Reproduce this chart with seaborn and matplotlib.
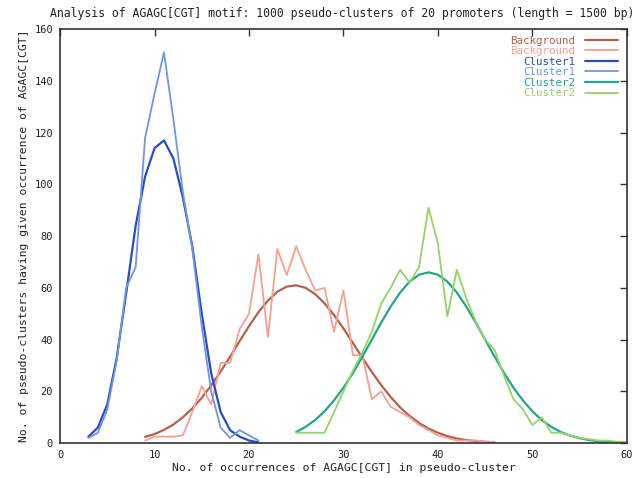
import matplotlib
matplotlib.use("Agg")
import matplotlib.pyplot as plt
import pandas as pd
import seaborn as sns

# occurrence counts (x) and number of pseudo-clusters (y)
bg_fit_x = list(range(9, 47))
bg_fit_y = [2.4, 3.5, 5.1, 7.2, 10.0, 13.4, 17.5, 22.3, 27.7, 33.4, 39.4, 45.2,
            50.6, 55.1, 58.5, 60.5, 61.0, 60.0, 57.6, 54.0, 49.5, 44.3, 38.7,
            33.0, 27.5, 22.4, 17.8, 13.8, 10.5, 7.8, 5.6, 4.0, 2.7, 1.8, 1.2,
            0.8, 0.5, 0.3]
bg_obs_x = list(range(9, 47))
bg_obs_y = [1, 2.5, 2.5, 2.5, 3, 12, 22, 15, 31, 31, 44, 50, 73, 41, 75, 65,
            76, 67, 59, 60, 43, 59, 34, 34, 17, 20, 14, 12, 10, 7, 5, 3, 2,
            1, 1, 1, 0.5, 0.5]

c1_fit_x = list(range(3, 22))
c1_fit_y = [2.5, 6, 15, 33, 58, 84, 103, 114, 117, 110, 95, 76, 50, 27, 12,
            5, 2.5, 1, 0.3]
c1_obs_x = list(range(3, 22))
c1_obs_y = [2, 4, 13, 32, 60, 68, 118, 135, 151, 125, 97, 75, 45, 20, 6, 2,
            5, 3, 1]

c2_fit_x = list(range(25, 61))
c2_fit_y = [4.3, 6.3, 8.9, 12.3, 16.5, 21.4, 27.1, 33.4, 40.0, 46.6, 52.8,
            58.2, 62.4, 65.1, 66.0, 65.1, 62.4, 58.2, 52.8, 46.6, 40.0, 33.4,
            27.1, 21.4, 16.5, 12.3, 8.9, 6.3, 4.3, 2.9, 1.9, 1.2, 0.7, 0.4,
            0.25, 0.15]
c2_obs_x = list(range(25, 61))
c2_obs_y = [4, 4, 4, 4, 12, 20, 28, 35, 43, 54, 60, 67, 62, 68, 91, 77, 49,
            67, 56, 47, 40, 36, 26, 17, 13, 7, 10, 4, 4, 3, 2, 1.5, 1, 1,
            0.5, 0.5]

series = [
    ("Background", bg_fit_x, bg_fit_y, "#b4604c", 1.6),
    ("Background ", bg_obs_x, bg_obs_y, "#f6a090", 1.3),
    ("Cluster1", c1_fit_x, c1_fit_y, "#2a4cc4", 1.6),
    ("Cluster1 ", c1_obs_x, c1_obs_y, "#6f95e6", 1.3),
    ("Cluster2", c2_fit_x, c2_fit_y, "#1fa888", 1.6),
    ("Cluster2 ", c2_obs_x, c2_obs_y, "#94d464", 1.3),
]

sns.set_style("white")
plt.rcParams["font.family"] = ["DejaVu Sans Mono"]

fig = plt.figure(figsize=(6.39, 4.78), dpi=100)
ax = fig.add_axes([0.094, 0.073, 0.887, 0.866])

for name, xs, ys, col, lw in series:
    df = pd.DataFrame({"x": xs, "y": ys})
    sns.lineplot(data=df, x="x", y="y", ax=ax, color=col, lw=lw,
                 label=name.strip(), estimator=None)

ax.set_xlim(0, 60)
ax.set_ylim(0, 160)
ax.set_xticks(range(0, 61, 10))
ax.set_yticks(range(0, 161, 20))
ax.tick_params(direction="in", length=5, width=1, labelsize=7.5, pad=5,
               top=True, right=True, colors="#333333", labelcolor="#222222")
for s in ax.spines.values():
    s.set_color("#333333")
    s.set_linewidth(1.2)

ax.set_xlabel("No. of occurrences of AGAGC[CGT] in pseudo-cluster",
              fontsize=8.2, color="#222222", labelpad=2)
ax.set_ylabel("No. of pseudo-clusters having given occurrence of AGAGC[CGT]",
              fontsize=8.2, color="#222222", labelpad=4)
fig.text(0.535, 0.972,
         "Analysis of AGAGC[CGT] motif: 1000 pseudo-clusters of 20 promoters (length = 1500 bp)",
         ha="center", va="center", fontsize=8.3, color="#222222")

leg = ax.legend(loc="upper right", frameon=False, markerfirst=False,
                labelcolor="linecolor", handlelength=3.0, fontsize=7.8,
                labelspacing=0.05, borderaxespad=0.2, handletextpad=0.9,
                bbox_to_anchor=(0.995, 1.0))

fig.savefig("out.png", dpi=100)
